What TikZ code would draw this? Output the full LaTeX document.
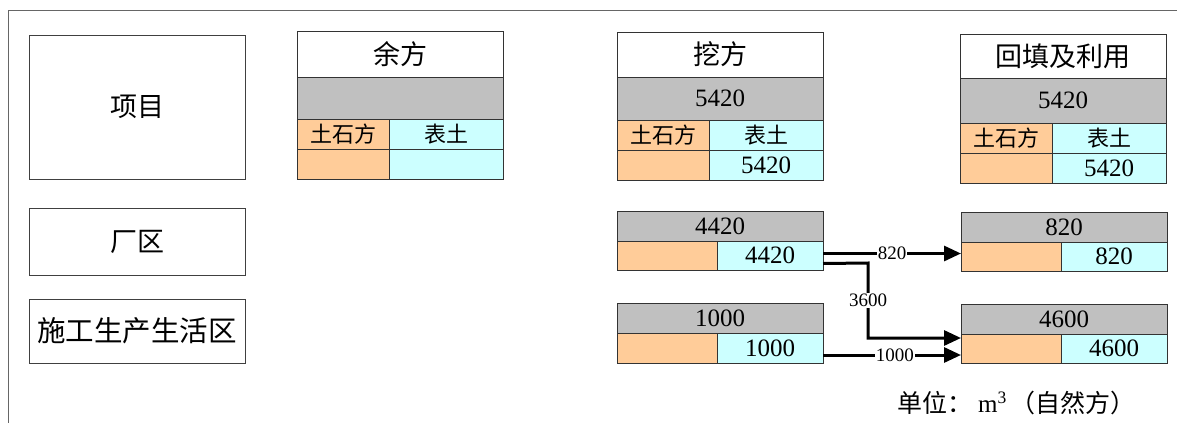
\documentclass[tikz,border=0pt]{standalone}
\usepackage{fontspec}
\setmainfont{Liberation Serif}
\newfontfamily\cjk{Noto Sans CJK SC}
\usetikzlibrary{arrows.meta,calc}
\definecolor{cgray}{HTML}{C0C0C0}
\definecolor{corange}{HTML}{FFCC99}
\definecolor{ccyan}{HTML}{CCFFFF}
\newcommand{\fs}[1]{\fontsize{#1}{#1}\selectfont}
\tikzset{
  cell/.style={draw=black!80, line width=0.8pt, inner sep=0pt, outer sep=0pt, anchor=north west, text=black},
  lbox/.style={cell, draw=black!75, font=\cjk\fs{27}},
  hdr/.style={cell, fill=white, font=\cjk\fs{27}},
  grayc/.style={cell, fill=cgray, font=\fs{25}},
  orc/.style={cell, fill=corange, font=\cjk\fs{22}},
  cyc/.style={cell, fill=ccyan, font=\fs{25}},
  arr/.style={line width=3pt, -{Triangle[length=17pt,width=15pt]}},
  alabel/.style={fill=white, inner sep=1pt, font=\fs{19}},
  frame/.style={draw=black!60, line width=1pt}
}
\begin{document}
\begin{tikzpicture}[x=1pt,y=-1pt]
\useasboundingbox (0,0) rectangle (1177,423);
% outer frame
\coordinate (ftr) at (1177,10);
\coordinate (ftl) at (8,10);
\coordinate (fbl) at (8,423);
\draw[frame] (ftr) -- (ftl) -- (fbl);

% left boxes
\node[lbox, minimum width=216pt, minimum height=144pt] (xm) at (29,35) {项目};
\node[lbox, minimum width=216pt, minimum height=67pt] (cq) at (29,208) {厂区};
\node[lbox, font=\cjk\fs{28.5}, minimum width=216pt, minimum height=64pt] (sg) at (29,299) {施工生产生活区};

% 余方
\node[hdr, minimum width=206pt, minimum height=46pt] (yh) at (297,31) {余方};
\node[grayc, minimum width=206pt, minimum height=42pt] (yg) at (297,77) {};
\node[orc, minimum width=92pt, minimum height=30pt] (yo1) at (297,119) {土石方};
\node[cyc, font=\cjk\fs{22}, minimum width=114pt, minimum height=30pt] (yc1) at (389,119) {表土};
\node[orc, minimum width=92pt, minimum height=30pt] (yo2) at (297,149) {};
\node[cyc, minimum width=114pt, minimum height=30pt] (yc2) at (389,149) {};

% 挖方
\node[hdr, minimum width=206pt, minimum height=45pt] (wh) at (617,32) {挖方};
\node[grayc, minimum width=206pt, minimum height=43pt] (wg) at (617,77) {5420};
\node[orc, minimum width=92pt, minimum height=30pt] (wo1) at (617,120) {土石方};
\node[cyc, font=\cjk\fs{22}, minimum width=114pt, minimum height=30pt] (wc1) at (709,120) {表土};
\node[orc, minimum width=92pt, minimum height=30pt] (wo2) at (617,150) {};
\node[cyc, minimum width=114pt, minimum height=30pt] (wc2) at (709,150) {5420};

% 回填及利用
\node[hdr, minimum width=206pt, minimum height=44pt] (hh) at (960,34) {回填及利用};
\node[grayc, minimum width=206pt, minimum height=45pt] (hg) at (960,78) {5420};
\node[orc, minimum width=92pt, minimum height=30pt] (ho1) at (960,123) {土石方};
\node[cyc, font=\cjk\fs{22}, minimum width=114pt, minimum height=30pt] (hc1) at (1052,123) {表土};
\node[orc, minimum width=92pt, minimum height=30pt] (ho2) at (960,153) {};
\node[cyc, minimum width=114pt, minimum height=30pt] (hc2) at (1052,153) {5420};

% 厂区 挖方
\node[grayc, minimum width=206pt, minimum height=30pt] (ag) at (617,211) {4420};
\node[orc, minimum width=100pt, minimum height=29pt] (ao) at (617,241) {};
\node[cyc, minimum width=106pt, minimum height=29pt] (ac) at (717,241) {4420};

% 施工 挖方
\node[grayc, minimum width=206pt, minimum height=30pt] (bg) at (617,303) {1000};
\node[orc, minimum width=100pt, minimum height=30pt] (bo) at (617,333) {};
\node[cyc, minimum width=106pt, minimum height=30pt] (bc) at (717,333) {1000};

% 厂区 回填
\node[grayc, minimum width=206pt, minimum height=30pt] (cg) at (961,212) {820};
\node[orc, minimum width=100pt, minimum height=29pt] (co) at (961,242) {};
\node[cyc, minimum width=106pt, minimum height=29pt] (cc) at (1061,242) {820};

% 施工 回填
\node[grayc, minimum width=206pt, minimum height=30pt] (dg) at (961,304) {4600};
\node[orc, minimum width=100pt, minimum height=29pt] (do) at (961,334) {};
\node[cyc, minimum width=106pt, minimum height=29pt] (dc) at (1061,334) {4600};

% arrows
\coordinate (a1s) at ([yshift=2pt]ac.east);
\coordinate (a1e) at (a1s -| co.west);
\draw[arr] (a1s) -- node[alabel]{820} (a1e);

\coordinate (a2s) at ([yshift=-8pt]ac.east);
\coordinate (a2m1) at (868,263);
\coordinate (a2m2) at (868,338);
\coordinate (a2e) at (a2m2 -| do.west);
\draw[arr] (a2s) -- (a2m1) -- node[alabel]{3600} (a2m2) -- (a2e);

\coordinate (a3s) at ([yshift=-7pt]bc.east);
\coordinate (a3e) at (a3s -| do.west);
\draw[arr] (a3s) -- node[alabel, pos=0.52]{1000} (a3e);

% unit
\node[anchor=west, inner sep=0pt, font=\cjk\fs{25}] (unit) at (897,403) {单位：\hspace{6pt}{\rmfamily m\textsuperscript{3}}\hspace{4pt}（自然方）};
\end{tikzpicture}
\end{document}
